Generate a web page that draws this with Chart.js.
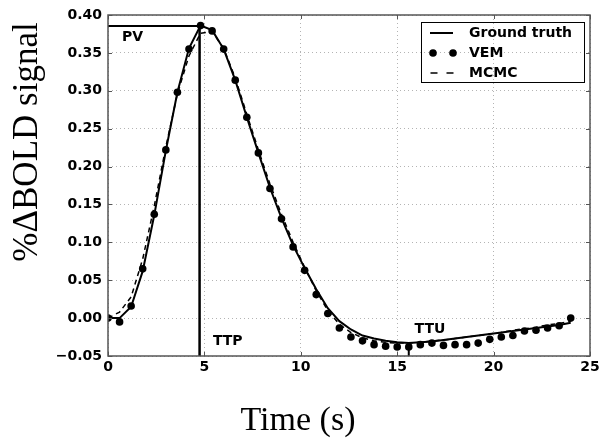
<!DOCTYPE html>
<html>
<head>
<meta charset="utf-8">
<script src="https://cdn.jsdelivr.net/npm/chart.js@4/dist/chart.umd.min.js"></script>
<style>
  body { margin: 0; background: #fff; }
  canvas { display: block; }
</style>
</head>
<body>
<canvas id="bold-chart" width="610" height="447"></canvas>
<script>
// sample times (s)
const times = [0, 0.6, 1.2, 1.8, 2.4, 3.0, 3.6, 4.2, 4.8, 5.4, 6.0, 6.6, 7.2, 7.8, 8.4, 9.0, 9.6, 10.2, 10.8, 11.4,
    12.0, 12.6, 13.2, 13.8, 14.4, 15.0, 15.6, 16.2, 16.8, 17.4, 18.0, 18.6, 19.2, 19.8, 20.4, 21.0, 21.6, 22.2, 22.8, 23.4, 24.0];

const groundTruth = [0.000, 0.000, 0.015, 0.062, 0.136, 0.221, 0.298, 0.356, 0.386, 0.380, 0.355, 0.314, 0.265, 0.218,
    0.172, 0.132, 0.096, 0.066, 0.038, 0.013, -0.004, -0.015, -0.023, -0.027, -0.030, -0.032, -0.033, -0.032, -0.031,
    -0.029, -0.027, -0.025, -0.023, -0.021, -0.019, -0.017, -0.015, -0.013, -0.011, -0.009, -0.006];

const vem = [0.000, -0.005, 0.016, 0.065, 0.137, 0.222, 0.298, 0.355, 0.386, 0.379, 0.355, 0.314, 0.265, 0.218,
    0.171, 0.131, 0.094, 0.063, 0.031, 0.006, -0.013, -0.025, -0.030, -0.035, -0.037, -0.038, -0.038, -0.035, -0.033,
    -0.036, -0.035, -0.035, -0.033, -0.028, -0.025, -0.023, -0.017, -0.016, -0.013, -0.010, 0.000];

const mcmc = [0.000, 0.008, 0.028, 0.078, 0.148, 0.226, 0.296, 0.346, 0.376, 0.378, 0.356, 0.317, 0.269, 0.222,
    0.177, 0.137, 0.100, 0.067, 0.036, 0.010, -0.008, -0.019, -0.026, -0.030, -0.032, -0.033, -0.033, -0.032, -0.030,
    -0.029, -0.027, -0.025, -0.023, -0.021, -0.019, -0.016, -0.014, -0.012, -0.009, -0.007, -0.004];

// markers: peak value, time to peak, time to undershoot
const pvLine = [{ x: 0, y: 0.3855 }, { x: 4.75, y: 0.3855 }];
const ttpLine = [{ x: 4.75, y: -0.05 }, { x: 4.75, y: 0.3855 }];
const ttuLine = [{ x: 15.6, y: -0.05 }, { x: 15.6, y: -0.032 }];
const markerLabels = [
    { text: 'PV', x: 0.73, y: 0.370 },
    { text: 'TTP', x: 5.44, y: -0.031 },
    { text: 'TTU', x: 15.9, y: -0.0155 }
];

const legendItems = ['Ground truth', 'VEM', 'MCMC'];
const yTicks = [-0.05, 0.40, 0.05];
const xTicks = [0, 25, 5];

const toPoints = vals => vals.map((v, i) => ({ x: times[i], y: v }));
const tickFont = { family: 'DejaVu Sans', weight: 'bold', size: 14 };

const decorPlugin = {
    id: 'decor',
    afterDraw(chart) {
        const { ctx, chartArea: a, scales } = chart;
        ctx.save();

        // inward ticks + frame
        ctx.strokeStyle = '#555';
        ctx.lineWidth = 1;
        scales.y.ticks.forEach(t => {
            const py = Math.round(scales.y.getPixelForValue(t.value)) + 0.5;
            ctx.beginPath();
            ctx.moveTo(a.left, py); ctx.lineTo(a.left + 4, py);
            ctx.moveTo(a.right, py); ctx.lineTo(a.right - 4, py);
            ctx.stroke();
        });
        scales.x.ticks.forEach(t => {
            const px = Math.round(scales.x.getPixelForValue(t.value)) + 0.5;
            ctx.beginPath();
            ctx.moveTo(px, a.bottom); ctx.lineTo(px, a.bottom - 4);
            ctx.moveTo(px, a.top); ctx.lineTo(px, a.top + 4);
            ctx.stroke();
        });
        ctx.lineWidth = 1.5;
        ctx.strokeRect(a.left, a.top, a.right - a.left, a.bottom - a.top);

        // marker labels
        ctx.fillStyle = '#000';
        ctx.font = 'bold 14px "DejaVu Sans"';
        ctx.textAlign = 'left';
        ctx.textBaseline = 'middle';
        markerLabels.forEach(m => {
            ctx.fillText(m.text, scales.x.getPixelForValue(m.x), scales.y.getPixelForValue(m.y));
        });

        // legend
        const lx = 421.5, ly = 22.5;
        ctx.strokeStyle = '#000';
        ctx.lineWidth = 1;
        ctx.strokeRect(lx, ly, 163, 60);
        const rows = [33, 53, 73];
        ctx.lineWidth = 2;
        ctx.beginPath(); ctx.moveTo(430, rows[0]); ctx.lineTo(453, rows[0]); ctx.stroke();
        [433, 453].forEach(cx => {
            ctx.beginPath(); ctx.arc(cx, rows[1], 3.8, 0, Math.PI * 2); ctx.fill();
        });
        ctx.lineWidth = 1.5;
        ctx.setLineDash([7, 9]);
        ctx.beginPath(); ctx.moveTo(430.5, rows[2]); ctx.lineTo(453.5, rows[2]); ctx.stroke();
        ctx.setLineDash([]);
        legendItems.forEach((label, i) => ctx.fillText(label, 469, rows[i]));

        // axis titles
        ctx.font = '34px "Liberation Serif"';
        ctx.textAlign = 'center';
        ctx.textBaseline = 'alphabetic';
        ctx.fillText('Time (s)', 298, 430);
        ctx.translate(37, 142);
        ctx.rotate(-Math.PI / 2);
        ctx.font = '35px "Liberation Serif"';
        ctx.fillText('%\u0394BOLD signal', 0, 0);

        ctx.restore();
    }
};

new Chart(document.getElementById('bold-chart').getContext('2d'), {
    type: 'line',
    data: {
        datasets: [
            { label: 'Ground truth', data: toPoints(groundTruth), borderColor: '#000', borderWidth: 2, pointRadius: 0, tension: 0 },
            { label: 'VEM', data: toPoints(vem), showLine: false, pointRadius: 3.8, pointBackgroundColor: '#000', pointBorderWidth: 0 },
            { label: 'MCMC', data: toPoints(mcmc), borderColor: '#000', borderWidth: 1.5, borderDash: [5, 4], pointRadius: 0, tension: 0 },
            { label: 'PV', data: pvLine, borderColor: '#000', borderWidth: 2, pointRadius: 0 },
            { label: 'TTP', data: ttpLine, borderColor: '#000', borderWidth: 2.5, pointRadius: 0 },
            { label: 'TTU', data: ttuLine, borderColor: '#000', borderWidth: 2, pointRadius: 0 }
        ]
    },
    options: {
        responsive: false,
        animation: false,
        layout: { padding: { left: 0, top: 15, right: 20, bottom: 0 } },
        plugins: { legend: { display: false }, tooltip: { enabled: false } },
        scales: {
            x: {
                type: 'linear',
                min: xTicks[0], max: xTicks[1],
                afterFit: s => { s.height = 91; },
                ticks: { stepSize: xTicks[2], color: '#000', font: tickFont, padding: 3, maxRotation: 0 },
                grid: { color: '#b4b4b4', lineWidth: 1, drawTicks: false },
                border: { display: false, dash: [1, 3] }
            },
            y: {
                min: yTicks[0], max: yTicks[1],
                afterFit: s => { s.width = 108; },
                ticks: {
                    stepSize: yTicks[2], color: '#000', font: tickFont, padding: 6,
                    callback: v => {
                        const n = Math.abs(v) < 1e-9 ? 0 : v;
                        return n < 0 ? '\u2212' + Math.abs(n).toFixed(2) : n.toFixed(2);
                    }
                },
                grid: { color: '#b4b4b4', lineWidth: 1, drawTicks: false },
                border: { display: false, dash: [1, 3] }
            }
        }
    },
    plugins: [decorPlugin]
});
</script>
</body>
</html>
